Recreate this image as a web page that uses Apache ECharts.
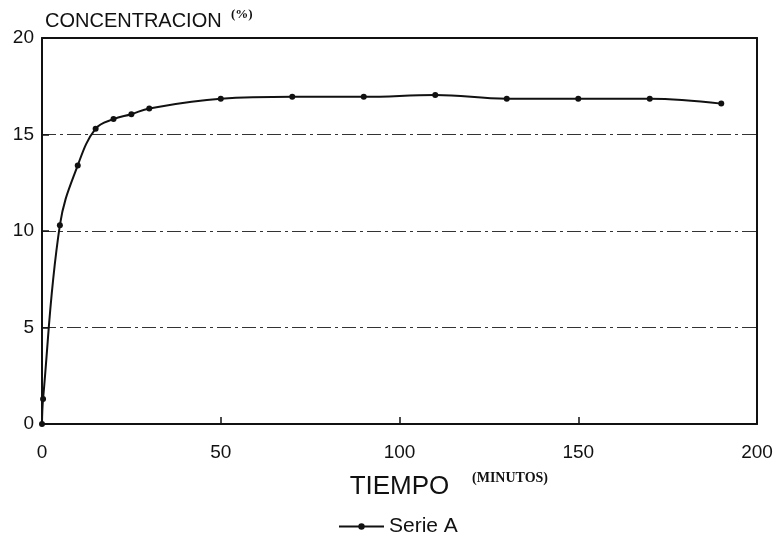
<!DOCTYPE html>
<html>
<head>
<meta charset="utf-8">
<script src="https://cdn.jsdelivr.net/npm/echarts@6/dist/echarts.min.js"></script>
<style>
  html, body { margin: 0; padding: 0; background: #fff; }
  #chart { width: 781px; height: 536px; }
</style>
</head>
<body>
<div id="chart"></div>
<script>
// Concentration (%) over time (minutes), Serie A
const tiempo = [0, 0.3, 5, 10, 15, 20, 25, 30, 50, 70, 90, 110, 130, 150, 170, 190];
const serieA = [0, 1.3, 10.3, 13.4, 15.3, 15.8, 16.05, 16.35, 16.85, 16.95, 16.95, 17.05, 16.85, 16.85, 16.85, 16.6];
const xTicks = [0, 50, 100, 150, 200];
const yTicks = [0, 5, 10, 15, 20];

const points = tiempo.map((t, i) => [t, serieA[i]]);
const font = 'Liberation Sans, Arial, sans-serif';

const chart = echarts.init(document.getElementById('chart'), null, { renderer: 'canvas' });
chart.setOption({
  backgroundColor: '#ffffff',
  animation: false,
  title: {
    text: 'CONCENTRACION',
    left: 40,
    top: 6,
    textStyle: { fontFamily: font, fontSize: 20, fontWeight: 'normal', color: '#111' }
  },
  graphic: [
    {
      type: 'text', left: 231, top: 8,
      style: { text: '(%)', font: 'bold 13px "Liberation Serif", serif', fill: '#111' }
    },
    {
      type: 'text', left: 472, top: 471,
      style: { text: '(MINUTOS)', font: 'bold 14px "Liberation Serif", serif', fill: '#111' }
    }
  ],
  grid: { left: 42, right: 24, top: 38, bottom: 112, containLabel: false },
  legend: {
    data: ['Serie A'],
    left: 333,
    top: 511,
    itemWidth: 45,
    itemHeight: 8,
    itemGap: 10,
    textStyle: { fontFamily: font, fontSize: 21, color: '#111' }
  },
  xAxis: [
    {
      type: 'value',
      min: xTicks[0], max: xTicks[xTicks.length - 1], interval: 50,
      name: 'TIEMPO',
      nameLocation: 'middle',
      nameGap: 50,
      nameTextStyle: { fontFamily: font, fontSize: 26, color: '#111' },
      axisLine: { show: true, onZero: false, lineStyle: { color: '#111', width: 2 } },
      axisTick: { show: true, inside: true, length: 7, lineStyle: { color: '#111', width: 1.5 } },
      axisLabel: { margin: 19, fontFamily: font, fontSize: 19, color: '#111' },
      splitLine: { show: false }
    },
    {
      type: 'value', position: 'top',
      min: xTicks[0], max: xTicks[xTicks.length - 1],
      axisLine: { show: true, onZero: false, lineStyle: { color: '#111', width: 2 } },
      axisTick: { show: false }, axisLabel: { show: false }, splitLine: { show: false }
    }
  ],
  yAxis: [
    {
      type: 'value',
      min: yTicks[0], max: yTicks[yTicks.length - 1], interval: 5,
      axisLine: { show: true, onZero: false, lineStyle: { color: '#111', width: 2 } },
      axisTick: { show: true, inside: true, length: 7, lineStyle: { color: '#111', width: 1.5 } },
      axisLabel: { margin: 8, fontFamily: font, fontSize: 19, color: '#111' },
      splitLine: { show: true, lineStyle: { color: '#333', width: 1, type: [14, 4, 3, 4] } }
    },
    {
      type: 'value', position: 'right',
      min: yTicks[0], max: yTicks[yTicks.length - 1],
      axisLine: { show: true, onZero: false, lineStyle: { color: '#111', width: 2 } },
      axisTick: { show: false }, axisLabel: { show: false }, splitLine: { show: false }
    }
  ],
  series: [
    {
      name: 'Serie A',
      type: 'line',
      data: points,
      smooth: 0.4,
      symbol: 'circle',
      symbolSize: 6,
      showAllSymbol: true,
      lineStyle: { color: '#111', width: 2 },
      itemStyle: { color: '#111' }
    }
  ]
});
</script>
</body>
</html>
